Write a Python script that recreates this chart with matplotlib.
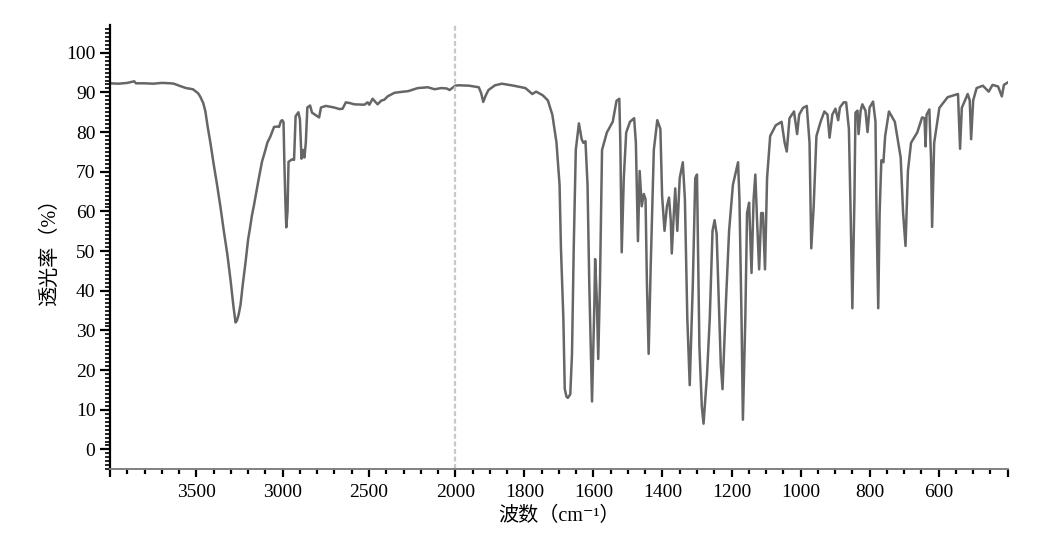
import numpy as np
import matplotlib.pyplot as plt
from matplotlib.ticker import FixedLocator, FixedFormatter

plt.rcParams['font.family'] = ['Liberation Serif', 'Noto Sans CJK SC', 'DejaVu Serif']

# IR spectrum (wavenumber cm-1, transmittance %)
wavenumber = [
    4000, 3950, 3900, 3860, 3850, 3800, 3750, 3700, 3650, 3630, 3600, 3560, 3520, 3490,
    3477, 3460, 3448, 3435, 3419, 3400, 3380, 3360, 3341, 3320, 3302, 3285, 3273, 3265,
    3255, 3244, 3230, 3215, 3200, 3190, 3178, 3167, 3150, 3138, 3120, 3100, 3089, 3070,
    3050, 3030, 3021, 3010, 3002, 2995, 2990, 2984, 2979, 2972, 2966, 2950, 2940, 2934,
    2925, 2909, 2900, 2891, 2882, 2874, 2866, 2857, 2841, 2830, 2800, 2789, 2778, 2750,
    2702, 2670, 2653, 2634, 2610, 2585, 2527, 2508, 2498, 2479, 2460, 2450, 2430, 2410,
    2392, 2353, 2300, 2275, 2240, 2217, 2159, 2120, 2081, 2050, 2033, 2015, 2000,
    1990, 1960, 1932, 1925, 1919, 1912, 1904, 1885, 1865, 1831, 1797, 1777, 1766, 1747,
    1732, 1719, 1707, 1698, 1694, 1687, 1683, 1678, 1674, 1667, 1662, 1657, 1651, 1642,
    1634, 1629, 1623, 1617, 1612, 1604, 1597, 1595, 1590, 1586, 1581, 1575, 1561, 1544,
    1533, 1525, 1522, 1518, 1512, 1505, 1494, 1482, 1477, 1471, 1466, 1460, 1454, 1449,
    1445, 1440, 1434, 1425, 1415, 1406, 1401, 1394, 1387, 1381, 1376, 1373, 1367, 1363,
    1357, 1350, 1341, 1335, 1328, 1321, 1312, 1305, 1300, 1293, 1286, 1281, 1271, 1263,
    1255, 1249, 1243, 1237, 1231, 1226, 1216, 1207, 1196, 1181, 1177, 1171, 1167, 1160,
    1155, 1149, 1142, 1136, 1131, 1126, 1120, 1114, 1109, 1103, 1097, 1088, 1072, 1055,
    1046, 1040, 1032, 1019, 1010, 1004, 993, 982, 974, 969, 962, 954, 942, 931, 922, 916,
    908, 899, 891, 886, 875, 868, 860, 855, 850, 844, 841, 835, 832, 826, 821, 812, 806,
    800, 790, 783, 780, 775, 771, 766, 760, 755, 744, 727, 710, 703, 696, 689, 680, 662,
    648, 641, 638, 635, 627, 622, 619, 613, 598, 574, 544, 538, 533, 516, 510, 506, 500,
    490, 472, 455, 444, 428, 417, 411, 400,
]
transmittance = [
    92.3, 92.2, 92.4, 92.8, 92.3, 92.3, 92.2, 92.4, 92.3, 92.2, 91.7, 91.1, 90.8, 89.8,
    88.9, 87.3, 85.3, 81.5, 77.4, 72.0, 66.7, 61.0, 55.1, 49.0, 42.7, 36.0, 32.0, 32.5,
    34.0, 36.5, 42.0, 47.2, 53.0, 55.6, 59.0, 61.4, 65.5, 68.4, 72.5, 75.5, 77.3, 79.0,
    81.3, 81.4, 81.3, 82.8, 83.0, 82.5, 72.0, 62.0, 56.0, 60.0, 72.5, 73.0, 73.2, 73.0,
    84.0, 85.0, 83.2, 73.3, 75.5, 73.6, 77.3, 86.2, 86.7, 84.9, 84.0, 83.7, 86.2, 86.6,
    86.2, 85.8, 85.9, 87.5, 87.3, 87.0, 86.9, 87.5, 86.9, 88.4, 87.5, 87.0, 87.9, 88.2,
    89.0, 89.9, 90.2, 90.3, 90.8, 91.1, 91.3, 90.8, 91.1, 91.0, 90.6, 91.2, 91.7,
    91.8, 91.7, 91.3, 89.8, 87.6, 89.2, 90.6, 91.8, 92.2, 91.7, 91.1, 89.6, 90.2, 89.3,
    88.0, 84.4, 77.4, 66.7, 50.7, 33.0, 15.3, 13.3, 13.0, 13.9, 24.1, 50.7, 75.5, 82.2,
    78.2, 77.3, 77.7, 66.7, 41.9, 12.1, 37.4, 48.0, 37.4, 22.8, 41.9, 75.5, 79.9, 82.6,
    87.9, 88.4, 77.3, 49.7, 68.4, 79.9, 82.6, 83.5, 77.3, 52.5, 70.2, 61.3, 64.4, 63.1,
    41.9, 24.1, 46.3, 75.5, 83.0, 80.8, 63.9, 55.1, 61.3, 63.5, 57.8, 49.4, 59.6, 65.8,
    55.1, 68.4, 72.4, 63.1, 33.0, 16.2, 41.9, 68.4, 69.3, 25.9, 10.8, 6.5, 18.7, 33.0,
    55.1, 57.8, 54.3, 37.4, 21.4, 15.2, 37.4, 55.1, 66.7, 72.4, 63.1, 33.0, 7.5, 33.0,
    59.6, 62.2, 44.5, 63.1, 69.3, 57.8, 45.4, 59.6, 59.6, 45.4, 68.4, 79.0, 81.7, 82.6,
    77.3, 75.1, 83.5, 85.2, 79.5, 84.4, 86.1, 86.6, 77.3, 50.7, 61.3, 79.0, 82.6, 85.2, 84.4, 78.6,
    84.4, 85.9, 83.0, 86.2, 87.5, 87.5, 80.8, 59.6, 35.6, 63.1, 84.9, 85.4, 79.5, 85.4, 87.0, 85.4, 80.0,
    86.2, 87.7, 82.6, 59.6, 35.6, 59.6, 72.9, 72.4, 79.0, 85.2, 82.6, 73.6, 59.6, 51.3, 70.2, 77.3, 79.9,
    83.7, 83.5, 76.4, 84.4, 85.7, 73.0, 56.1, 77.3, 86.1, 88.8, 89.6, 75.8, 86.1, 89.6, 88.0, 78.2, 88.0,
    91.1, 91.7, 90.2, 91.9, 91.5, 89.0, 91.9, 92.5,
]

major_left = [4000, 3500, 3000, 2500, 2000]
major_right = [1800, 1600, 1400, 1200, 1000, 800, 600, 400]
tick_labels = ['', '3500', '3000', '2500', '2000',
               '1800', '1600', '1400', '1200', '1000', '800', '600', '']


# split axis: 2000-400 is drawn at twice the scale of 4000-2000
def forward(w):
    w = np.asarray(w, dtype=float)
    return np.where(w >= 2000, w, 2 * w - 2000)


def inverse(p):
    p = np.asarray(p, dtype=float)
    return np.where(p >= 2000, p, (p + 2000) / 2)


fig = plt.figure(figsize=(10.46, 5.54), dpi=100)
ax = fig.add_axes([0.1052, 0.1529, 0.8582, 0.8020])

ax.set_xscale('function', functions=(forward, inverse))
ax.plot(wavenumber, transmittance, color='#666666', lw=1.8, solid_joinstyle='round')
ax.axvline(2000, color='#c8c8c8', lw=1.6, ls=(0, (2.2, 1.2)))

ax.set_xlim(4000, 400)
ax.set_ylim(-5, 107)

ax.xaxis.set_major_locator(FixedLocator(major_left + major_right))
ax.xaxis.set_major_formatter(FixedFormatter(tick_labels))
ax.xaxis.set_minor_locator(FixedLocator(list(range(4000, 2000, -100)) + list(range(2000, 399, -50))))
ax.yaxis.set_major_locator(FixedLocator(range(0, 101, 10)))
ax.yaxis.set_minor_locator(FixedLocator(range(-5, 107, 1)))

ax.tick_params(axis='x', which='major', direction='out', length=5.5, width=1.6, labelsize=14, pad=5)
ax.tick_params(axis='x', which='minor', direction='out', length=3.5, width=1.6)
ax.tick_params(axis='y', which='major', direction='out', length=7.5, width=1.6, labelsize=14, pad=3)
ax.tick_params(axis='y', which='minor', direction='out', length=3.5, width=1.2)

for side in ['top', 'right']:
    ax.spines[side].set_visible(False)
ax.spines['left'].set_linewidth(1.6)
ax.spines['bottom'].set_linewidth(1.4)
ax.spines['bottom'].set_color('#808080')

ax.set_xlabel('波数（cm⁻¹）', fontsize=14.5)
ax.xaxis.set_label_coords(0.5, -0.085)
ax.set_ylabel('透光率（%）', fontsize=14.5)
ax.yaxis.set_label_coords(-0.056, 0.5)

fig.savefig('out.png', dpi=100)
